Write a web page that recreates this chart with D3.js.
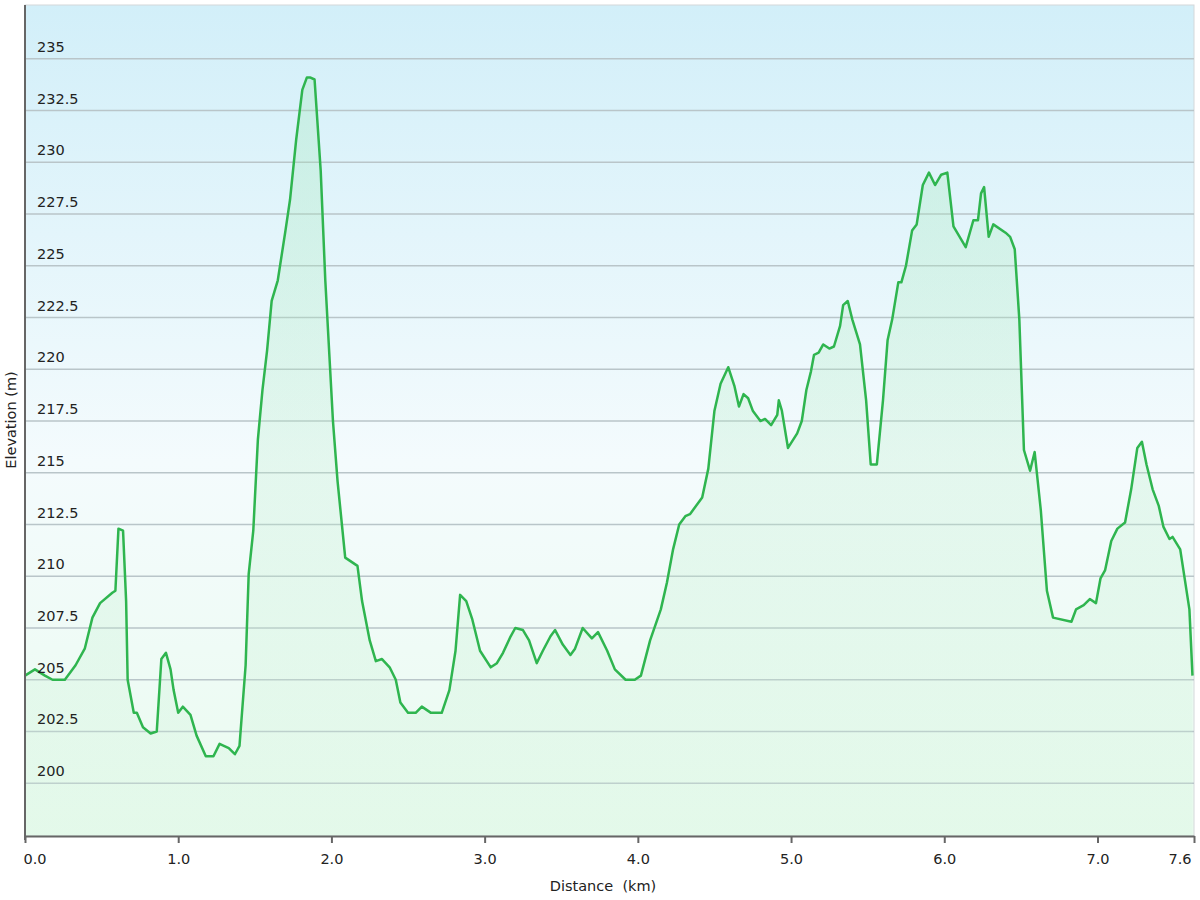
<!DOCTYPE html>
<html><head><meta charset="utf-8">
<script src="https://cdn.jsdelivr.net/npm/d3@7"></script>
<style>body{margin:0;background:#fff}</style></head>
<body><svg id="c" width="1200" height="900"></svg>
<script>
const distKm=[0,0.065,0.13,0.18,0.26,0.33,0.39,0.44,0.49,0.57,0.59,0.61,0.64,0.66,0.67,0.71,0.73,0.77,0.82,0.86,0.89,0.92,0.95,0.97,1.00,1.03,1.08,1.12,1.18,1.23,1.27,1.33,1.37,1.40,1.44,1.46,1.49,1.52,1.55,1.58,1.61,1.65,1.70,1.73,1.77,1.81,1.84,1.86,1.89,1.93,1.96,2.01,2.04,2.09,2.17,2.20,2.25,2.29,2.33,2.38,2.42,2.45,2.50,2.55,2.59,2.65,2.72,2.77,2.81,2.84,2.88,2.92,2.97,3.04,3.08,3.12,3.17,3.20,3.25,3.29,3.34,3.38,3.43,3.46,3.51,3.56,3.59,3.64,3.70,3.74,3.80,3.85,3.92,3.98,4.02,4.08,4.15,4.19,4.23,4.27,4.31,4.34,4.42,4.46,4.50,4.54,4.59,4.63,4.66,4.69,4.72,4.75,4.80,4.83,4.87,4.91,4.92,4.94,4.98,5.04,5.07,5.10,5.13,5.15,5.18,5.21,5.25,5.28,5.32,5.34,5.37,5.40,5.45,5.49,5.52,5.56,5.60,5.63,5.66,5.70,5.72,5.75,5.79,5.82,5.86,5.90,5.94,5.98,6.02,6.06,6.14,6.19,6.22,6.24,6.26,6.29,6.32,6.40,6.43,6.46,6.49,6.52,6.56,6.59,6.63,6.67,6.71,6.83,6.86,6.91,6.95,6.99,7.02,7.05,7.09,7.13,7.18,7.22,7.26,7.29,7.32,7.36,7.40,7.43,7.47,7.49,7.54,7.60,7.62];
const elevM=[205.2,205.5,205.2,205.0,205.0,205.7,206.5,208.0,208.7,209.2,209.3,212.3,212.2,208.8,205.0,203.4,203.4,202.7,202.4,202.5,206.0,206.3,205.5,204.5,203.4,203.7,203.3,202.3,201.3,201.3,201.9,201.7,201.4,201.8,205.7,210.1,212.2,216.6,219.0,220.9,223.3,224.3,226.7,228.2,231.1,233.5,234.1,234.1,234.0,229.6,224.3,217.5,214.6,210.9,210.5,208.8,206.9,205.9,206.0,205.6,205.0,203.9,203.4,203.4,203.7,203.4,203.4,204.5,206.4,209.1,208.8,207.9,206.4,205.6,205.8,206.3,207.1,207.5,207.4,206.9,205.8,206.4,207.1,207.4,206.7,206.2,206.5,207.5,207.0,207.3,206.4,205.5,205.0,205.0,205.2,206.9,208.4,209.7,211.3,212.5,212.9,213.0,213.8,215.2,218.0,219.3,220.1,219.2,218.2,218.8,218.6,218.0,217.5,217.6,217.3,217.8,218.5,218.0,216.2,216.9,217.5,219.0,219.9,220.7,220.8,221.2,221.0,221.1,222.1,223.1,223.3,222.4,221.2,218.5,215.4,215.4,218.5,221.4,222.4,224.2,224.2,225.0,226.7,227.0,228.9,229.5,228.9,229.4,229.5,226.9,225.9,227.2,227.2,228.5,228.8,226.4,227.0,226.6,226.4,225.8,222.4,216.1,215.1,216.0,213.2,209.3,208.0,207.8,208.4,208.6,208.9,208.7,209.9,210.3,211.7,212.3,212.6,214.2,216.2,216.5,215.4,214.2,213.4,212.4,211.8,211.9,211.3,208.4,205.2];
const yTicks=[200,202.5,205,207.5,210,212.5,215,217.5,220,222.5,225,227.5,230,232.5,235];
const xTicks=[0,1,2,3,4,5,6,7];
const xEndLabel="7.6";

const svg=d3.select("#c");
const F="Verdana, DejaVu Sans, sans-serif";
const L=25,R=1194,T=5,B=836;
const x=d3.scaleLinear().domain([0,7.63]).range([L,R]);
const y=d3.scaleLinear().domain([197.45,237.6]).range([B,T]);
const defs=svg.append("defs");
const bg=defs.append("linearGradient").attr("id","bg").attr("x1",0).attr("x2",0).attr("y1",0).attr("y2",1);
bg.append("stop").attr("offset","0").attr("stop-color","#d2eff9");
bg.append("stop").attr("offset","0.55").attr("stop-color","#f4fbfd");
bg.append("stop").attr("offset","1").attr("stop-color","#eafbef");
const ag=defs.append("linearGradient").attr("id","ag").attr("x1",0).attr("x2",0).attr("y1",0).attr("y2",1);
ag.append("stop").attr("offset","0").attr("stop-color","#9be6b0").attr("stop-opacity",0.28);
ag.append("stop").attr("offset","1").attr("stop-color","#d0f3da").attr("stop-opacity",0.25);
svg.append("rect").attr("x",L).attr("y",T).attr("width",R-L).attr("height",B-T).attr("fill","url(#bg)").attr("stroke","#d4d8da");
svg.append("g").selectAll("line").data(yTicks).join("line")
 .attr("x1",L).attr("x2",R).attr("y1",d=>y(d)).attr("y2",d=>y(d)).attr("stroke","#b9c5c9").attr("stroke-width",1.5);
const data=distKm.map((d,i)=>[d,elevM[i]]);
svg.append("path").datum(data).attr("fill","url(#ag)")
 .attr("d",d3.area().x(d=>x(d[0])).y0(B).y1(d=>y(d[1])));
svg.append("path").datum(data).attr("fill","none").attr("stroke","#2fb54f").attr("stroke-width",2.5).attr("stroke-linejoin","round")
 .attr("d",d3.line().x(d=>x(d[0])).y(d=>y(d[1])));
svg.append("g").selectAll("text").data(yTicks).join("text")
 .attr("x",37).attr("y",d=>y(d)-7).text(d=>d).attr("font-family",F).attr("font-size",14.5).attr("fill","#222");
const ax=svg.append("g").attr("transform",`translate(0,${B})`).call(d3.axisBottom(x).tickValues([...xTicks,7.63]).tickFormat((d,i)=>i<xTicks.length?d3.format(".1f")(d):xEndLabel).tickSize(7).tickSizeOuter(0));
ax.select(".domain").attr("stroke","#666").attr("stroke-width",2);
ax.selectAll(".tick line").attr("stroke","#666").attr("stroke-width",2);
ax.selectAll("text").attr("font-family",F).attr("font-size",14.5).attr("fill","#222").attr("dy","1.25em");
ax.selectAll(".tick text").filter((d,i)=>i==0).attr("text-anchor","start").attr("dx",-2);
ax.selectAll(".tick text").filter((d,i)=>i==xTicks.length).attr("text-anchor","end").attr("dx",-3);
svg.append("line").attr("x1",L).attr("x2",L).attr("y1",T).attr("y2",B+4).attr("stroke","#666").attr("stroke-width",2);
svg.append("text").attr("x",603).attr("y",891).attr("text-anchor","middle").attr("xml:space","preserve").text("Distance  (km)").attr("font-family",F).attr("font-size",14.5).attr("fill","#222");
svg.append("text").attr("transform","translate(16,420) rotate(-90)").attr("text-anchor","middle").text("Elevation (m)").attr("font-family",F).attr("font-size",14.5).attr("fill","#222");
</script></body></html>
